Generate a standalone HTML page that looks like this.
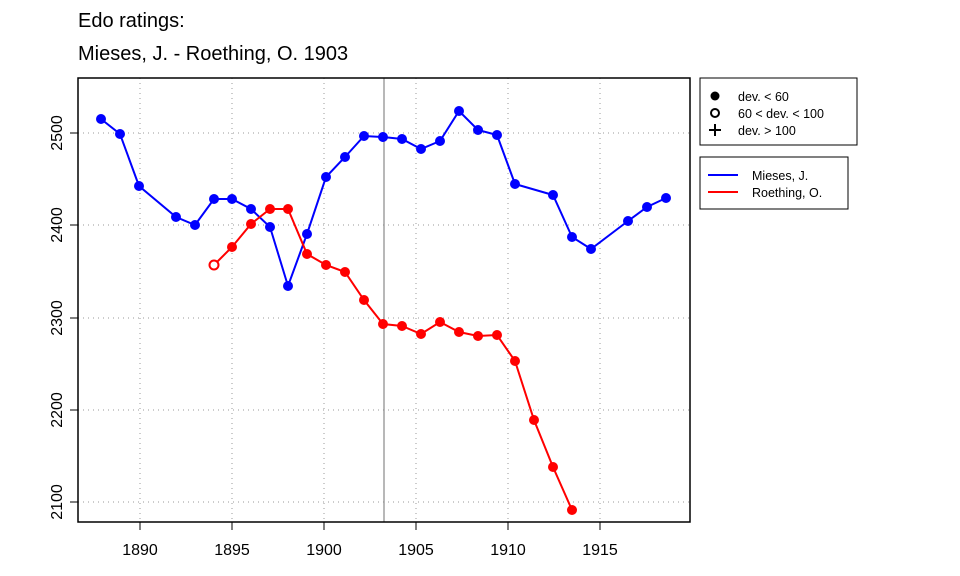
<!DOCTYPE html>
<html><head><style>body{margin:0;background:#fff}svg{display:block}text{font-family:"Liberation Sans",Arial,sans-serif}</style></head>
<body>
<svg width="960" height="576" xmlns="http://www.w3.org/2000/svg">
<text x="78" y="27" font-size="20">Edo ratings:</text>
<text x="78" y="60" font-size="20">Mieses, J. - Roething, O. 1903</text>
<g stroke="#999" stroke-dasharray="1,4" stroke-width="1">
<line x1="140" y1="78" x2="140" y2="522"/><line x1="232" y1="78" x2="232" y2="522"/><line x1="324" y1="78" x2="324" y2="522"/><line x1="416" y1="78" x2="416" y2="522"/><line x1="508" y1="78" x2="508" y2="522"/><line x1="600" y1="78" x2="600" y2="522"/>
<line x1="78" y1="133" x2="690" y2="133"/><line x1="78" y1="225" x2="690" y2="225"/><line x1="78" y1="318" x2="690" y2="318"/><line x1="78" y1="410" x2="690" y2="410"/><line x1="78" y1="502" x2="690" y2="502"/>
</g>
<line x1="384" y1="78" x2="384" y2="522" stroke="#888" stroke-width="1.2"/>
<rect x="78" y="78" width="612" height="444" fill="none" stroke="#000" stroke-width="1.5"/>
<g stroke="#000"><line x1="140" y1="522" x2="140" y2="530"/><line x1="232" y1="522" x2="232" y2="530"/><line x1="324" y1="522" x2="324" y2="530"/><line x1="416" y1="522" x2="416" y2="530"/><line x1="508" y1="522" x2="508" y2="530"/><line x1="600" y1="522" x2="600" y2="530"/>
<line x1="70" y1="133" x2="78" y2="133"/><line x1="70" y1="225" x2="78" y2="225"/><line x1="70" y1="318" x2="78" y2="318"/><line x1="70" y1="410" x2="78" y2="410"/><line x1="70" y1="502" x2="78" y2="502"/></g>
<g font-size="16" text-anchor="middle"><text x="140" y="555">1890</text><text x="232" y="555">1895</text><text x="324" y="555">1900</text><text x="416" y="555">1905</text><text x="508" y="555">1910</text><text x="600" y="555">1915</text>
<text transform="translate(62,133) rotate(-90)">2500</text><text transform="translate(62,225) rotate(-90)">2400</text><text transform="translate(62,318) rotate(-90)">2300</text><text transform="translate(62,410) rotate(-90)">2200</text><text transform="translate(62,502) rotate(-90)">2100</text></g>
<polyline fill="none" stroke="#00f" stroke-width="2" points="101,119 120,134 139,186 176,217 195,225 214,199 232,199 251,209 270,227 288,286 307,234 326,177 345,157 364,136 383,137 402,139 421,149 440,141 459,111 478,130 497,135 515,184 553,195 572,237 591,249 628,221 647,207 666,198"/>
<g fill="#00f"><circle cx="101" cy="119" r="5"/><circle cx="120" cy="134" r="5"/><circle cx="139" cy="186" r="5"/><circle cx="176" cy="217" r="5"/><circle cx="195" cy="225" r="5"/><circle cx="214" cy="199" r="5"/><circle cx="232" cy="199" r="5"/><circle cx="251" cy="209" r="5"/><circle cx="270" cy="227" r="5"/><circle cx="288" cy="286" r="5"/><circle cx="307" cy="234" r="5"/><circle cx="326" cy="177" r="5"/><circle cx="345" cy="157" r="5"/><circle cx="364" cy="136" r="5"/><circle cx="383" cy="137" r="5"/><circle cx="402" cy="139" r="5"/><circle cx="421" cy="149" r="5"/><circle cx="440" cy="141" r="5"/><circle cx="459" cy="111" r="5"/><circle cx="478" cy="130" r="5"/><circle cx="497" cy="135" r="5"/><circle cx="515" cy="184" r="5"/><circle cx="553" cy="195" r="5"/><circle cx="572" cy="237" r="5"/><circle cx="591" cy="249" r="5"/><circle cx="628" cy="221" r="5"/><circle cx="647" cy="207" r="5"/><circle cx="666" cy="198" r="5"/></g>
<polyline fill="none" stroke="#f00" stroke-width="2" points="214,265 232,247 251,224 270,209 288,209 307,254 326,265 345,272 364,300 383,324 402,326 421,334 440,322 459,332 478,336 497,335 515,361 534,420 553,467 572,510"/>
<circle cx="214" cy="265" r="4.5" fill="#fff" stroke="#f00" stroke-width="2"/>
<g fill="#f00"><circle cx="232" cy="247" r="5"/><circle cx="251" cy="224" r="5"/><circle cx="270" cy="209" r="5"/><circle cx="288" cy="209" r="5"/><circle cx="307" cy="254" r="5"/><circle cx="326" cy="265" r="5"/><circle cx="345" cy="272" r="5"/><circle cx="364" cy="300" r="5"/><circle cx="383" cy="324" r="5"/><circle cx="402" cy="326" r="5"/><circle cx="421" cy="334" r="5"/><circle cx="440" cy="322" r="5"/><circle cx="459" cy="332" r="5"/><circle cx="478" cy="336" r="5"/><circle cx="497" cy="335" r="5"/><circle cx="515" cy="361" r="5"/><circle cx="534" cy="420" r="5"/><circle cx="553" cy="467" r="5"/><circle cx="572" cy="510" r="5"/></g>
<rect x="700" y="78" width="157" height="67" fill="#fff" stroke="#000"/>
<circle cx="715" cy="96" r="4.5"/><circle cx="715" cy="113" r="4" fill="none" stroke="#000" stroke-width="2"/>
<path d="M709 130h12M715 124v12" stroke="#000" stroke-width="2"/>
<g font-size="12.5"><text x="738" y="101">dev. &lt; 60</text><text x="738" y="118">60 &lt; dev. &lt; 100</text><text x="738" y="135">dev. &gt; 100</text></g>
<rect x="700" y="157" width="148" height="52" fill="#fff" stroke="#000"/>
<line x1="708" y1="175" x2="738" y2="175" stroke="#00f" stroke-width="2"/><line x1="708" y1="192" x2="738" y2="192" stroke="#f00" stroke-width="2"/>
<g font-size="12.5"><text x="752" y="180">Mieses, J.</text><text x="752" y="197">Roething, O.</text></g>
</svg>
</body></html>
